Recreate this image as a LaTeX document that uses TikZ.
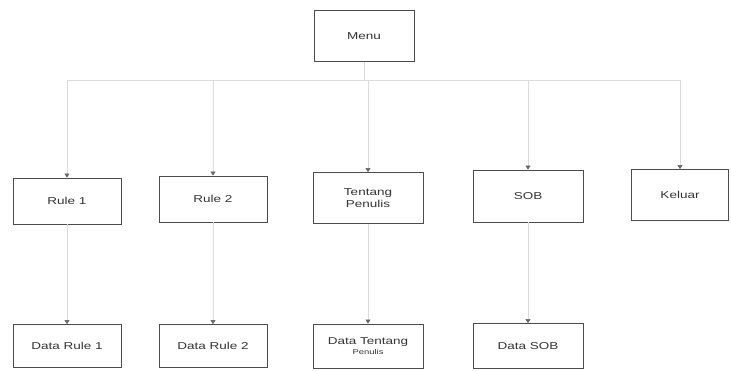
\documentclass[tikz,border=0pt]{standalone}
\usepackage{fontspec}
\newfontfamily\boxfont[FakeStretch=1.35]{Liberation Sans}
\usetikzlibrary{arrows.meta}
\tikzset{
	menubox/.style={draw=black!70, line width=0.8pt, minimum width=108pt, minimum height=46pt,
		inner sep=0pt, align=center, text=black!80, font=\boxfont\fontsize{10}{12}\selectfont},
	link/.style={draw=black!14, line width=0.6pt},
	arrowlink/.style={-{Triangle[width=5pt,length=4pt,color=black!60]}}
}
\begin{document}
\begin{tikzpicture}[x=1pt,y=-1pt]
		\useasboundingbox (0,0) rectangle (731,370);

		% top
		\node[menubox, minimum width=100pt, minimum height=51pt] (menu) at (364,36) {Menu};

		% second row
		\node[menubox] (rule1) at (67,201) {Rule 1};
		\node[menubox] (rule2) at (213,199) {Rule 2};
		\node[menubox, minimum width=110pt, minimum height=51pt] (tentang) at (368,198) {Tentang\\Penulis};
		\node[menubox, minimum width=110pt, minimum height=52pt] (sob) at (528,196) {SOB};
		\node[menubox, minimum width=97pt, minimum height=51pt] (keluar) at (680,195) {Keluar};

		% third row
		\node[menubox, minimum height=43pt] (drule1) at (67,346) {Data Rule 1};
		\node[menubox, minimum height=43pt] (drule2) at (213,346) {Data Rule 2};
		\node[menubox, minimum width=110pt, minimum height=44pt] (dtentang) at (368,346)
			{Data Tentang\\[-2pt]{\fontsize{7}{8}\selectfont Penulis}};
		\node[menubox, minimum width=110pt, minimum height=45pt] (dsob) at (528,346) {Data SOB};

		% connectors
		\coordinate (bus) at (364,80);
		\draw[link] (menu.south) -- (bus);
		\draw[link] (rule1.north |- bus) -- (keluar.north |- bus);
		\foreach \n in {rule1,rule2,tentang,sob,keluar}
			\draw[link,arrowlink] (\n.north |- bus) -- (\n.north);
		\foreach \a/\b in {rule1/drule1,rule2/drule2,tentang/dtentang,sob/dsob}
			\draw[link,arrowlink] (\a) -- (\b);
	\end{tikzpicture}
\end{document}
